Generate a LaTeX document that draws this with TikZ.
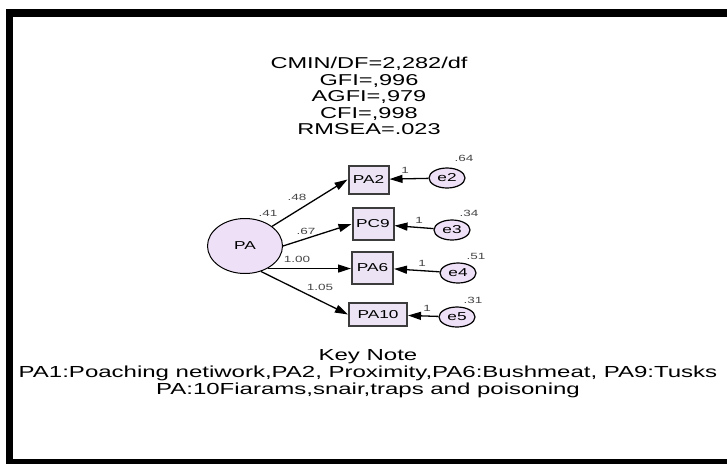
\documentclass[tikz,border=0pt]{standalone}
\usepackage{fontspec}
\setmainfont{Liberation Sans}[FakeStretch=1.5]
\usetikzlibrary{arrows.meta,shapes.geometric}
\definecolor{boxfill}{RGB}{236,228,245}
\definecolor{ellfill}{RGB}{238,224,246}
\definecolor{boxline}{RGB}{60,60,60}
\definecolor{lbltext}{RGB}{70,70,70}
\begin{document}
\begin{tikzpicture}[x=1pt,y=-1pt,
  obs/.style={draw=boxline,line width=2pt,fill=boxfill,rectangle,inner sep=0pt,font=\fontsize{11.5}{12}\selectfont},
  lat/.style={draw=black,line width=1pt,fill=ellfill,ellipse,inner sep=0pt,font=\fontsize{11.5}{12}\selectfont},
  err/.style={draw=black,line width=1.2pt,fill=ellfill,ellipse,inner sep=0pt,minimum width=36pt,minimum height=20pt,font=\fontsize{11.5}{12}\selectfont},
  arr/.style={line width=1.3pt,-{Triangle[length=13pt,width=8pt]}},
  lbl/.style={font=\fontsize{9}{10}\selectfont,text=lbltext,inner sep=0pt},
  txt/.style={align=center,inner sep=0pt}]
\useasboundingbox (0,0) rectangle (727,464);
\fill[white] (0,0) rectangle (727,464);
\fill[black] (6,9) rectangle (727,17);
\fill[black] (6,9) rectangle (13,464);
\fill[black] (6,459) rectangle (727,464);
\node[txt,font=\fontsize{15.7}{16.5}\selectfont] (fit) at (369,96) {CMIN/DF=2,282/df\\GFI=,996\\AGFI=,979\\CFI=,998\\RMSEA=.023};
\node[lat,minimum width=75pt,minimum height=55pt] (PA) at (245,246) {PA};
\node[obs,minimum width=40pt,minimum height=28pt] (PA2) at (368.5,179.5) {PA2};
\node[obs,minimum width=41pt,minimum height=32pt] (PC9) at (373,224) {PC9};
\node[obs,minimum width=41pt,minimum height=32pt] (PA6) at (372.5,267.5) {PA6};
\node[obs,minimum width=58pt,minimum height=23pt] (PA10) at (378,314.5) {PA10};
\node[err] (e2) at (447,178) {e2};
\node[err] (e3) at (452,230) {e3};
\node[err] (e4) at (458,273) {e4};
\node[err] (e5) at (457,317) {e5};
\draw[arr] (PA.36) -- (PA2.west);
\draw[arr] (PA.east) -- (PC9.west);
\draw[arr] (PA.-45) -- (PA.-45 -| PA6.west);
\draw[arr] (PA.-58) -- (PA10.west);
\draw[arr] (e2) -- (PA2);
\draw[arr] (e3) -- (PC9);
\draw[arr] (e4) -- (PA6);
\draw[arr] (e5) -- (PA10);
\node[lbl] (l48) at (297,197) {.48};
\node[lbl] (l41) at (268,213) {.41};
\node[lbl] (l67) at (306,231) {.67};
\node[lbl] (l100) at (297,259) {1.00};
\node[lbl] (l105) at (320,287) {1.05};
\node[lbl] (v64) at (464,158) {.64};
\node[lbl] (v34) at (469,213) {.34};
\node[lbl] (v51) at (476,256) {.51};
\node[lbl] (v31) at (473,300) {.31};
\node[lbl] (o2) at (405,170) {1};
\node[lbl] (o3) at (419,220) {1};
\node[lbl] (o4) at (422,263) {1};
\node[lbl] (o5) at (427,308) {1};
\node[txt,font=\fontsize{16}{17}\selectfont] (key) at (368,374) {Key Note\\PA1:Poaching netiwork,PA2, Proximity,PA6:Bushmeat, PA9:Tusks\\PA:10Fiarams,snair,traps and poisoning};
\end{tikzpicture}
\end{document}
